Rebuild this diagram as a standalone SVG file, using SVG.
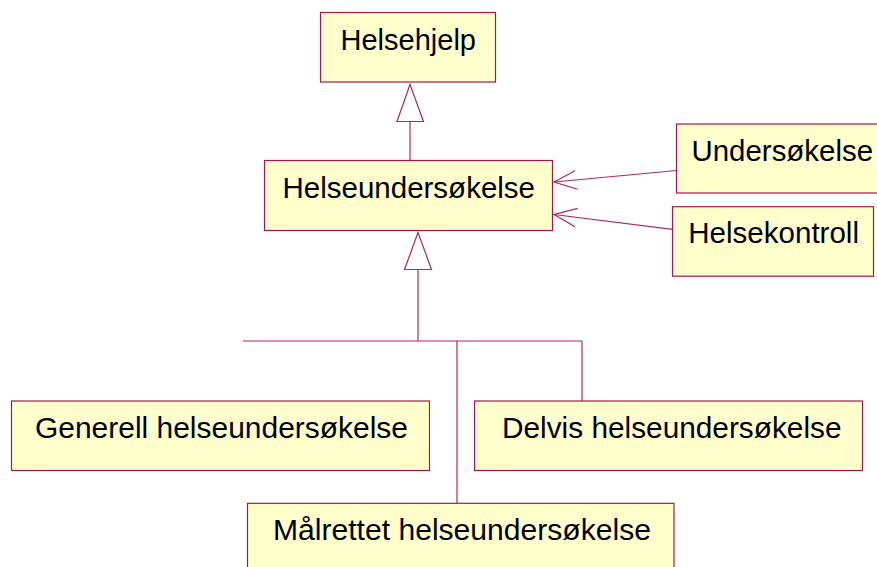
<svg xmlns="http://www.w3.org/2000/svg" width="877" height="567" viewBox="0 0 877 567">
<style>
.box{fill:#FFFFCC;stroke:#A8174A;stroke-width:1.2}
.lbl{font-family:"Liberation Sans",Arial,sans-serif;font-size:29.5px;fill:#000}
.ln{fill:none;stroke:#B0285A;stroke-width:1.2}
.tri{fill:#FFFFFF;stroke:#B0285A;stroke-width:1.2}
</style>
<rect width="877" height="567" fill="#FFFFFF"/>
<g id="connectors">
<polygon class="tri" points="410,84.5 397,121.5 423.5,121.5"/>
<line class="ln" x1="410" y1="121.5" x2="410" y2="160.5"/>
<polygon class="tri" points="418,232.5 404.5,269.5 431.5,269.5"/>
<line class="ln" x1="418" y1="269.5" x2="418" y2="341"/>
<line class="ln" x1="243" y1="341" x2="582" y2="341"/>
<line class="ln" x1="457" y1="341" x2="457" y2="503"/>
<line class="ln" x1="582" y1="341" x2="582" y2="401"/>
<line class="ln" x1="676.5" y1="170.5" x2="554" y2="182"/>
<polyline class="ln" points="575,170.7 554,182 577.7,189.3"/>
<line class="ln" x1="672.5" y1="229.3" x2="554" y2="214.5"/>
<polyline class="ln" points="577.7,208.3 554,214.5 575,226.7"/>
</g>
<g id="helsehjelp">
<rect class="box" x="320.5" y="12.5" width="175" height="69.5"/>
<text class="lbl" x="340.5" y="50" textLength="135.5" lengthAdjust="spacingAndGlyphs">Helsehjelp</text>
</g>
<g id="helseundersokelse">
<rect class="box" x="264.5" y="160.5" width="288" height="70"/>
<text class="lbl" x="282.5" y="197.5" textLength="252.5" lengthAdjust="spacingAndGlyphs">Helseundersøkelse</text>
</g>
<g id="undersokelse">
<rect class="box" x="676.5" y="124" width="215" height="69"/>
<text class="lbl" x="691.5" y="160.7" textLength="181.5" lengthAdjust="spacingAndGlyphs">Undersøkelse</text>
</g>
<g id="helsekontroll">
<rect class="box" x="672.5" y="206.7" width="201" height="69.5"/>
<text class="lbl" x="688.3" y="243.3" textLength="170.7" lengthAdjust="spacingAndGlyphs">Helsekontroll</text>
</g>
<g id="generell">
<rect class="box" x="11.5" y="401" width="418" height="69.5"/>
<text class="lbl" x="35" y="438" textLength="373" lengthAdjust="spacingAndGlyphs">Generell helseundersøkelse</text>
</g>
<g id="delvis">
<rect class="box" x="474.5" y="401" width="388" height="69.5"/>
<text class="lbl" x="502" y="437.7" textLength="339.5" lengthAdjust="spacingAndGlyphs">Delvis helseundersøkelse</text>
</g>
<g id="malrettet">
<rect class="box" x="247.5" y="503.3" width="426.5" height="80"/>
<text class="lbl" x="273" y="539.5" textLength="378" lengthAdjust="spacingAndGlyphs">Målrettet helseundersøkelse</text>
</g>
</svg>
